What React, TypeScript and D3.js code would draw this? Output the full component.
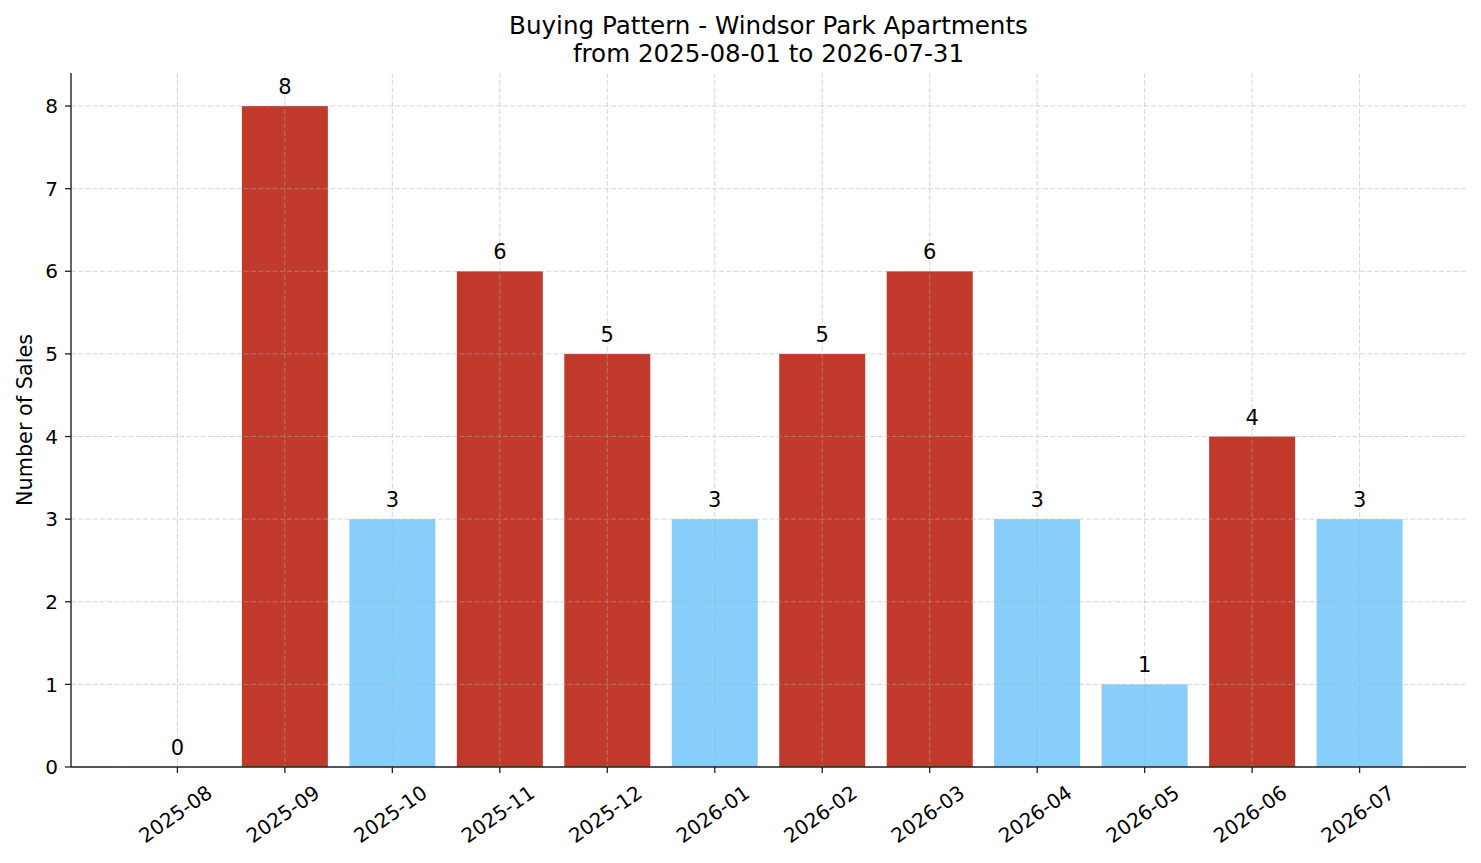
import React from "react";
import * as d3 from "d3";

const months = [
  "2025-08", "2025-09", "2025-10", "2025-11", "2025-12", "2026-01",
  "2026-02", "2026-03", "2026-04", "2026-05", "2026-06", "2026-07",
];
const sales = [0, 8, 3, 6, 5, 3, 5, 6, 3, 1, 4, 3];
const yTicks = [0, 1, 2, 3, 4, 5, 6, 7, 8];
const titleLines = ["Buying Pattern - Windsor Park Apartments", "from 2025-08-01 to 2026-07-31"];
const yLabel = "Number of Sales";

const W = 1481;
const H = 863;
const left = 71;
const right = 1466;
const top = 73;
const bottom = 767;
const HIGH = "#c0392b";
const LOW = "#87cefa";
const FONT = "'DejaVu Sans', sans-serif";

export default function App() {
  const x = d3.scaleBand<string>().domain(months).range([left, right]).paddingInner(0.2).paddingOuter(0.59);
  const yMax = (d3.max(sales) ?? 0) * 1.05;
  const y = d3.scaleLinear().domain([0, yMax]).range([bottom, top]);
  const mean = d3.mean(sales) ?? 0;
  const cx = (m: string) => (x(m) ?? 0) + x.bandwidth() / 2;

  return (
    <svg width={W} height={H} style={{ position: "absolute", left: 0, top: 0, background: "#fff" }} fontFamily={FONT}>
      <rect x={0} y={0} width={W} height={H} fill="#fff" />
      {/* bars */}
      {months.map((m, i) => (
        <rect key={m} x={x(m)} y={y(sales[i])} width={x.bandwidth()} height={bottom - y(sales[i])}
          fill={sales[i] > mean ? HIGH : LOW} />
      ))}
      {/* grid */}
      <g stroke="#b0b0b0" strokeOpacity={0.5} strokeWidth={1} strokeDasharray="5,2.2">
        {yTicks.map((t) => (
          <line key={"gy" + t} x1={left} x2={right} y1={y(t)} y2={y(t)} />
        ))}
        {months.map((m) => (
          <line key={"gx" + m} x1={cx(m)} x2={cx(m)} y1={top} y2={bottom} />
        ))}
      </g>
      {/* bar labels */}
      {months.map((m, i) => (
        <text key={"l" + m} x={cx(m)} y={y(sales[i]) - 12} textAnchor="middle" fontSize={21} fill="#000">
          {sales[i]}
        </text>
      ))}
      {/* spines */}
      <line x1={left} x2={left} y1={top} y2={bottom} stroke="#222" strokeWidth={1.4} />
      <line x1={left} x2={right} y1={bottom} y2={bottom} stroke="#222" strokeWidth={1.4} />
      {/* y ticks */}
      {yTicks.map((t) => (
        <g key={"yt" + t}>
          <line x1={left - 6} x2={left} y1={y(t)} y2={y(t)} stroke="#222" strokeWidth={1.3} />
          <text x={left - 13} y={y(t)} dy="0.36em" textAnchor="end" fontSize={20} fill="#000">{t}</text>
        </g>
      ))}
      {/* x ticks */}
      {months.map((m) => (
        <g key={"xt" + m}>
          <line x1={cx(m)} x2={cx(m)} y1={bottom} y2={bottom + 6} stroke="#222" strokeWidth={1.3} />
          <text transform={`translate(${cx(m) - 2},${bottom + 47}) rotate(-35)`} textAnchor="middle"
            dy="0.36em" fontSize={20} fill="#000">{m}</text>
        </g>
      ))}
      {/* y label */}
      <text transform={`translate(32,${(top + bottom) / 2}) rotate(-90)`} textAnchor="middle" fontSize={20.8} fill="#000">
        {yLabel}
      </text>
      {/* title */}
      {titleLines.map((t, i) => (
        <text key={"t" + i} x={(left + right) / 2} y={34 + i * 28} textAnchor="middle" fontSize={24.6} fill="#000">{t}</text>
      ))}
    </svg>
  );
}
